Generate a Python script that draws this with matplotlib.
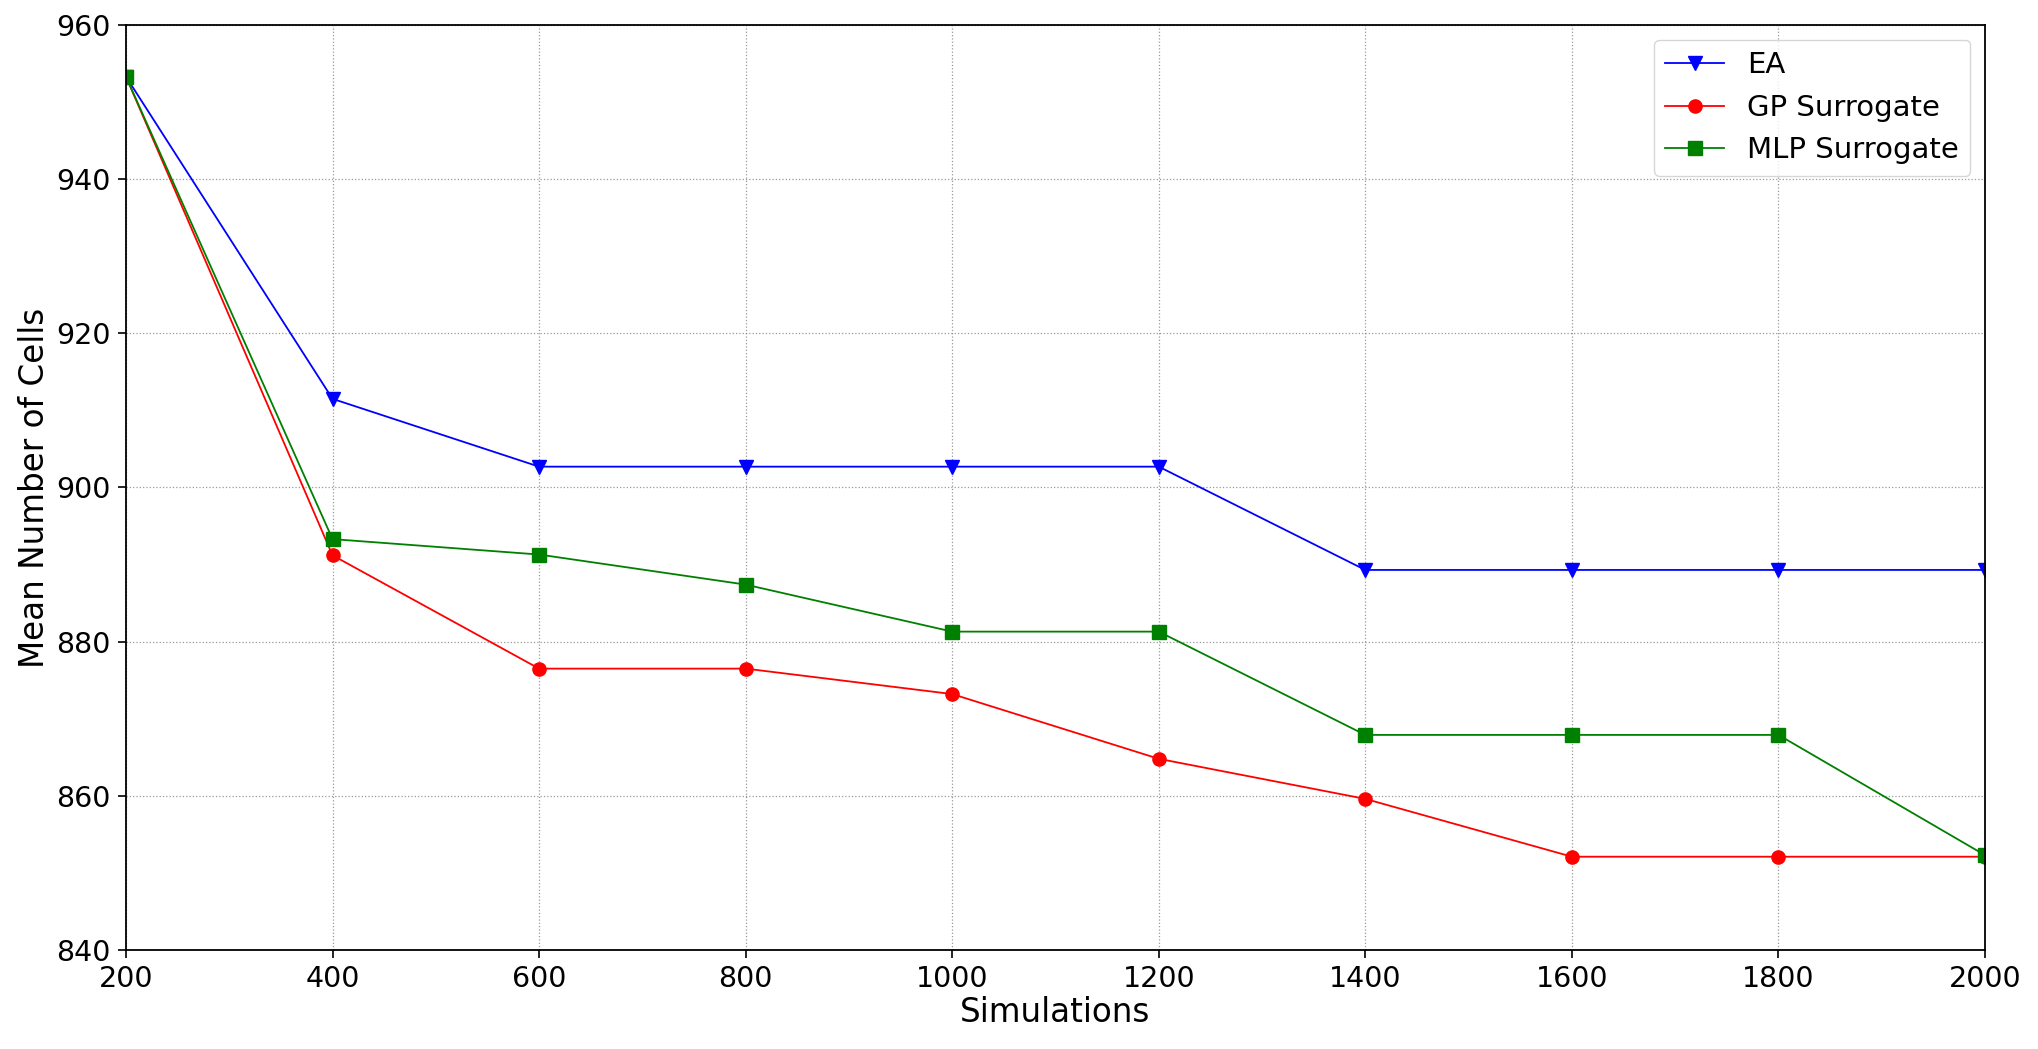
import matplotlib
matplotlib.use("Agg")
import matplotlib.pyplot as plt

# simulations budget
sims = [200, 400, 600, 800, 1000, 1200, 1400, 1600, 1800, 2000]

# mean number of cells per method
ea = [953.3, 911.5, 902.7, 902.7, 902.7, 902.7, 889.3, 889.3, 889.3, 889.3]
gp = [953.3, 891.2, 876.5, 876.5, 873.2, 864.8, 859.6, 852.1, 852.1, 852.1]
mlp = [953.3, 893.3, 891.3, 887.4, 881.3, 881.3, 867.9, 867.9, 867.9, 852.3]

fig = plt.figure(figsize=(20.38, 10.49), dpi=100)
ax = fig.add_axes([0.0618, 0.0944, 0.974 - 0.0618, 0.9762 - 0.0944])

ax.plot(sims, ea, color="blue", marker="v", markersize=9.5, linewidth=1.3, label="EA")
ax.plot(sims, gp, color="red", marker="o", markersize=9.5, linewidth=1.3, label="GP Surrogate")
ax.plot(sims, mlp, color="green", marker="s", markersize=9.5, linewidth=1.3, label="MLP Surrogate")

ax.set_xlim(200, 2000)
ax.set_ylim(840, 960)
ax.set_xticks(sims)
ax.set_yticks(range(840, 961, 20))
ax.tick_params(labelsize=20.5, length=5.5, width=1.2, pad=5.5)
ax.set_xlabel("Simulations", fontsize=23.5, labelpad=2)
ax.set_ylabel("Mean Number of Cells", fontsize=23.5)
ax.grid(True, linestyle=":", color="gray", linewidth=0.9, alpha=0.8)
for s in ax.spines.values():
    s.set_linewidth(1.3)
ax.legend(loc="upper right", fontsize=21)

fig.savefig("out.png", dpi=100)
